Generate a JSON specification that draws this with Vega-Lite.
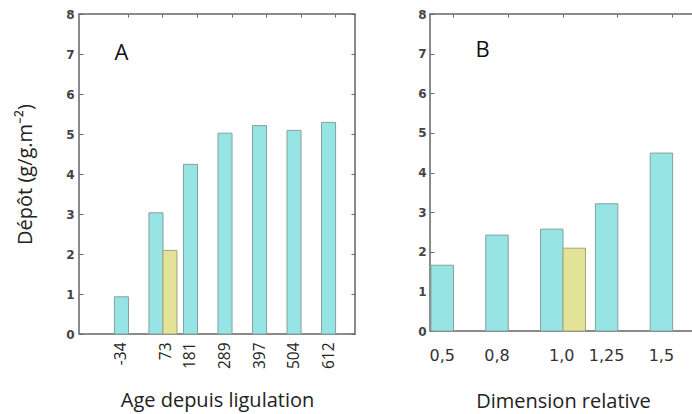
{
  "$schema": "https://vega.github.io/schema/vega-lite/v6.json",
  "padding": {"left": 14, "top": 7, "right": 0, "bottom": 8},
  "background": "white",
  "datasets": {
    "A": [
      {"age": "-34", "depot": 0.93, "serie": "mesure"},
      {"age": "73", "depot": 3.03, "serie": "mesure"},
      {"age": "73", "depot": 2.09, "serie": "reference"},
      {"age": "181", "depot": 4.24, "serie": "mesure"},
      {"age": "289", "depot": 5.02, "serie": "mesure"},
      {"age": "397", "depot": 5.21, "serie": "mesure"},
      {"age": "504", "depot": 5.09, "serie": "mesure"},
      {"age": "612", "depot": 5.29, "serie": "mesure"}
    ],
    "B": [
      {"dim": "0,5", "depot": 1.66, "serie": "mesure"},
      {"dim": "0,8", "depot": 2.42, "serie": "mesure"},
      {"dim": "1,0", "depot": 2.57, "serie": "mesure"},
      {"dim": "1,0", "depot": 2.09, "serie": "reference"},
      {"dim": "1,25", "depot": 3.21, "serie": "mesure"},
      {"dim": "1,5", "depot": 4.49, "serie": "mesure"}
    ]
  },
  "config": {
    "view": {"stroke": "#666666", "strokeWidth": 1.5},
    "axis": {
      "grid": false,
      "domain": false,
      "tickColor": "#666666",
      "tickWidth": 1,
      "labelColor": "#333333",
      "titleColor": "#222222",
      "titleFont": "Open Sans",
      "titleFontSize": 20,
      "titleFontWeight": "normal"
    }
  },
  "spacing": 59,
  "hconcat": [
    {
      "width": 276,
      "height": 320,
      "data": {"name": "A"},
      "layer": [
        {
          "transform": [{"filter": "datum.serie == 'mesure'"}],
          "mark": {"type": "bar", "fill": "#97e4e4", "stroke": "#869f9f", "strokeWidth": 1},
          "encoding": {
            "x": {
              "field": "age", "type": "ordinal",
              "scale": {"domain": ["-34", "73", "181", "289", "397", "504", "612"], "paddingInner": 0.593, "paddingOuter": 0.794, "align": 0.646},
              "axis": {
                "orient": "bottom", "title": "Age depuis ligulation", "ticks": false,
                "labelAngle": 270, "labelAlign": "right", "labelBaseline": "middle",
                "labelFont": "Open Sans", "labelFontSize": 15.5, "labelColor": "#222222", "labelPadding": 8,
                "labelOffset": {"condition": {"test": "datum.value == '73'", "value": 10}, "value": 0},
                "titlePadding": 22
              }
            },
            "y": {
              "field": "depot", "type": "quantitative",
              "scale": {"domain": [0, 8], "nice": false},
              "axis": {
                "orient": "left", "title": "Dépôt (g/g.m⁻²)", "values": [0, 1, 2, 3, 4, 5, 6, 7, 8],
                "tickSize": -4, "labelPadding": 9, "labelFont": "DejaVu Sans", "labelFontSize": 12, "labelFontWeight": "bold", "labelColor": "#444444",
                "titlePadding": 30
              }
            }
          }
        },
        {
          "transform": [{"filter": "datum.serie == 'reference'"}],
          "mark": {"type": "bar", "fill": "#e2e396", "stroke": "#a3a37a", "strokeWidth": 1, "xOffset": 14},
          "encoding": {
            "x": {"field": "age", "type": "ordinal",
              "axis": {"orient": "top", "labels": false, "title": null, "bandPosition": 1, "tickSize": -3}},
            "y": {"field": "depot", "type": "quantitative",
              "axis": {"orient": "right", "labels": false, "title": null, "values": [0, 1, 2, 3, 4, 5, 6, 7, 8], "tickSize": -4}}
          }
        },
        {
          "data": {"values": [{"panneau": "A", "age": "-34", "depot": 7.03}]},
          "mark": {"type": "text", "font": "Open Sans", "fontSize": 22, "fontWeight": "normal", "fill": "#111111", "align": "center", "baseline": "middle"},
          "encoding": {
            "x": {"field": "age", "type": "ordinal", "axis": null},
            "y": {"field": "depot", "type": "quantitative", "axis": null},
            "text": {"field": "panneau"}
          }
        }
      ],
      "resolve": {"axis": {"x": "independent", "y": "independent"}}
    },
    {
      "width": 266,
      "height": 317,
      "data": {"name": "B"},
      "layer": [
        {
          "transform": [{"filter": "datum.serie == 'mesure'"}],
          "mark": {"type": "bar", "fill": "#97e4e4", "stroke": "#869f9f", "strokeWidth": 1},
          "encoding": {
            "x": {
              "field": "dim", "type": "ordinal",
              "scale": {"domain": ["0,5", "0,8", "1,0", "1,25", "1,5"], "paddingInner": 0.59, "paddingOuter": 0.222, "align": 0.04},
              "axis": {
                "orient": "bottom", "title": "Dimension relative", "ticks": false, "labelAngle": 0,
                "labelFont": "DejaVu Sans", "labelFontSize": 16, "labelColor": "#333333", "labelPadding": 16,
                "labelOffset": {"condition": {"test": "datum.value == '1,0'", "value": 10}, "value": 0},
                "titlePadding": 28
              }
            },
            "y": {
              "field": "depot", "type": "quantitative",
              "scale": {"domain": [0, 8], "nice": false},
              "axis": {
                "orient": "left", "title": null, "values": [0, 1, 2, 3, 4, 5, 6, 7, 8],
                "tickSize": -4, "labelPadding": 8, "labelFont": "DejaVu Sans", "labelFontSize": 12, "labelFontWeight": "bold", "labelColor": "#444444"
              }
            }
          }
        },
        {
          "transform": [{"filter": "datum.serie == 'reference'"}],
          "mark": {"type": "bar", "fill": "#e2e396", "stroke": "#a3a37a", "strokeWidth": 1, "xOffset": 22.5},
          "encoding": {
            "x": {"field": "dim", "type": "ordinal",
              "axis": {"orient": "top", "labels": false, "title": null, "bandPosition": 1, "tickSize": -3}},
            "y": {"field": "depot", "type": "quantitative", "axis": null}
          }
        },
        {
          "data": {"values": [{"panneau": "B", "dim": "0,8", "depot": 7.1}]},
          "mark": {"type": "text", "font": "Open Sans", "fontSize": 22, "fontWeight": "normal", "fill": "#111111", "align": "center", "baseline": "middle", "dx": -14.5},
          "encoding": {
            "x": {"field": "dim", "type": "ordinal", "axis": null},
            "y": {"field": "depot", "type": "quantitative", "axis": null},
            "text": {"field": "panneau"}
          }
        }
      ],
      "resolve": {"axis": {"x": "independent", "y": "independent"}}
    }
  ]
}
